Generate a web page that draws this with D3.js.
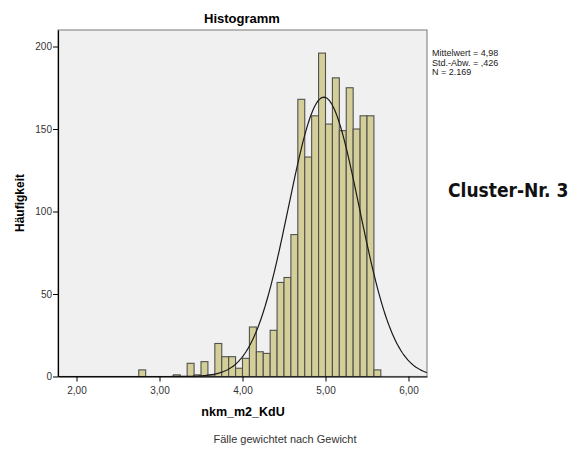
<!DOCTYPE html>
<html>
<head>
<meta charset="utf-8">
<script src="https://cdn.jsdelivr.net/npm/d3@7"></script>
<style>
  body { margin: 0; background: #fff; }
  svg text { font-family: "Liberation Sans", Arial, sans-serif; }
</style>
</head>
<body>
<div id="chart"></div>
<script>
// Histogram data (bin start, count), bin width 1/12
const binStarts = [2.75, 3.1667, 3.3333, 3.4167, 3.5, 3.5833, 3.6667, 3.75, 3.8333, 3.9167,
                   4.0, 4.0833, 4.1667, 4.25, 4.3333, 4.4167, 4.5, 4.5833, 4.6667, 4.75,
                   4.8333, 4.9167, 5.0, 5.0833, 5.1667, 5.25, 5.3333, 5.4167, 5.5, 5.5833];
const counts = [4, 1, 8, 1, 9, 1, 20, 12, 12, 5,
                11, 30, 15, 14, 28, 57, 60, 86, 168, 133,
                158, 196, 153, 181, 149, 175, 150, 158, 158, 4];
const binWidth = 1 / 12;
const xTicks = [2, 3, 4, 5, 6];
const yTicks = [0, 50, 100, 150, 200];
const meanVal = 4.98, sdVal = 0.426, nVal = 2169;
const statLines = ["Mittelwert = 4,98", "Std.-Abw. = ,426", "N = 2.169"];

const width = 576, height = 450;
const plot = {left: 58, right: 427, top: 30, bottom: 376.5};

const svg = d3.select("#chart")
              .append("svg")
              .attr("width", width)
              .attr("height", height);

let x = d3.scaleLinear()
          .domain([1.777, 6.223])
          .range([plot.left, plot.right]);
let y = d3.scaleLinear()
          .domain([0, 210])
          .range([plot.bottom, plot.top]);

// plot background and frame
svg.append("rect")
    .attr("x", plot.left)
    .attr("y", plot.top)
    .attr("width", plot.right - plot.left)
    .attr("height", plot.bottom - plot.top)
    .style("fill", "#f0f0f0")
    .style("stroke", "#8c8c8c")
    .style("stroke-width", 1.2);

// bars
svg.selectAll(".bar")
    .data(binStarts)
    .enter()
    .append("rect")
    .attr("class", "bar")
    .attr("x", d => x(d))
    .attr("y", (d, i) => y(counts[i]))
    .attr("width", d => x(d + binWidth) - x(d))
    .attr("height", (d, i) => y(0) - y(counts[i]))
    .style("fill", "#d4cf99")
    .style("stroke", "#505050")
    .style("stroke-width", 1.1);

// normal curve from the stated mean / sd / N
const curveXs = d3.range(plot.left, plot.right + 0.5, 1).map(px => x.invert(px));
const dens = v => nVal * binWidth / (sdVal * Math.sqrt(2 * Math.PI)) *
                  Math.exp(-0.5 * Math.pow((v - meanVal) / sdVal, 2));
svg.append("path")
    .datum(curveXs)
    .attr("d", d3.line().x(d => x(d)).y(d => y(dens(d))))
    .style("fill", "none")
    .style("stroke", "#1a1a1a")
    .style("stroke-width", 1.2);

// axes
const xAxis = svg.append("g")
    .attr("transform", "translate(0," + plot.bottom + ")")
    .call(d3.axisBottom(x).tickValues(xTicks).tickSize(5).tickSizeOuter(0)
          .tickFormat(d => d3.format(".2f")(d).replace(".", ",")));
const yAxis = svg.append("g")
    .attr("transform", "translate(" + plot.left + ",0)")
    .call(d3.axisLeft(y).tickValues(yTicks).tickSize(5).tickSizeOuter(0));

[xAxis, yAxis].forEach(a => {
  a.select(".domain").style("stroke", "#000").style("stroke-width", 1.2);
  a.selectAll(".tick line").style("stroke", "#000");
  a.selectAll(".tick text")
    .style("font-size", "10px")
    .style("fill", "#333")
    .style("font-family", "Liberation Sans, Arial, sans-serif");
});
xAxis.selectAll(".tick text").attr("dy", "0.9em");
yAxis.selectAll(".tick text").attr("x", -6);

// titles
svg.append("text")
    .attr("x", 242)
    .attr("y", 23)
    .attr("text-anchor", "middle")
    .text("Histogramm")
    .style("font-size", "13px")
    .style("font-weight", "bold");

svg.append("text")
    .attr("transform", "translate(24,203) rotate(-90)")
    .attr("text-anchor", "middle")
    .text("Häufigkeit")
    .style("font-size", "12px")
    .style("font-weight", "bold");

svg.append("text")
    .attr("x", 243)
    .attr("y", 416)
    .attr("text-anchor", "middle")
    .text("nkm_m2_KdU")
    .style("font-size", "12.5px")
    .style("font-weight", "bold");

svg.append("text")
    .attr("x", 285)
    .attr("y", 443)
    .attr("text-anchor", "middle")
    .text("Fälle gewichtet nach Gewicht")
    .style("font-size", "11px")
    .style("fill", "#333");

// stats box text
svg.selectAll(".stat")
    .data(statLines)
    .enter()
    .append("text")
    .attr("class", "stat")
    .attr("x", 432)
    .attr("y", (d, i) => 56 + i * 9.5)
    .text(d => d)
    .style("font-size", "9px")
    .style("fill", "#222");

svg.append("text")
    .attr("x", 448)
    .attr("y", 197)
    .text("Cluster-Nr. 3")
    .style("font-family", "DejaVu Sans Condensed, DejaVu Sans, sans-serif")
    .style("font-size", "19px")
    .style("font-weight", "bold")
    .style("fill", "#111");
</script>
</body>
</html>
